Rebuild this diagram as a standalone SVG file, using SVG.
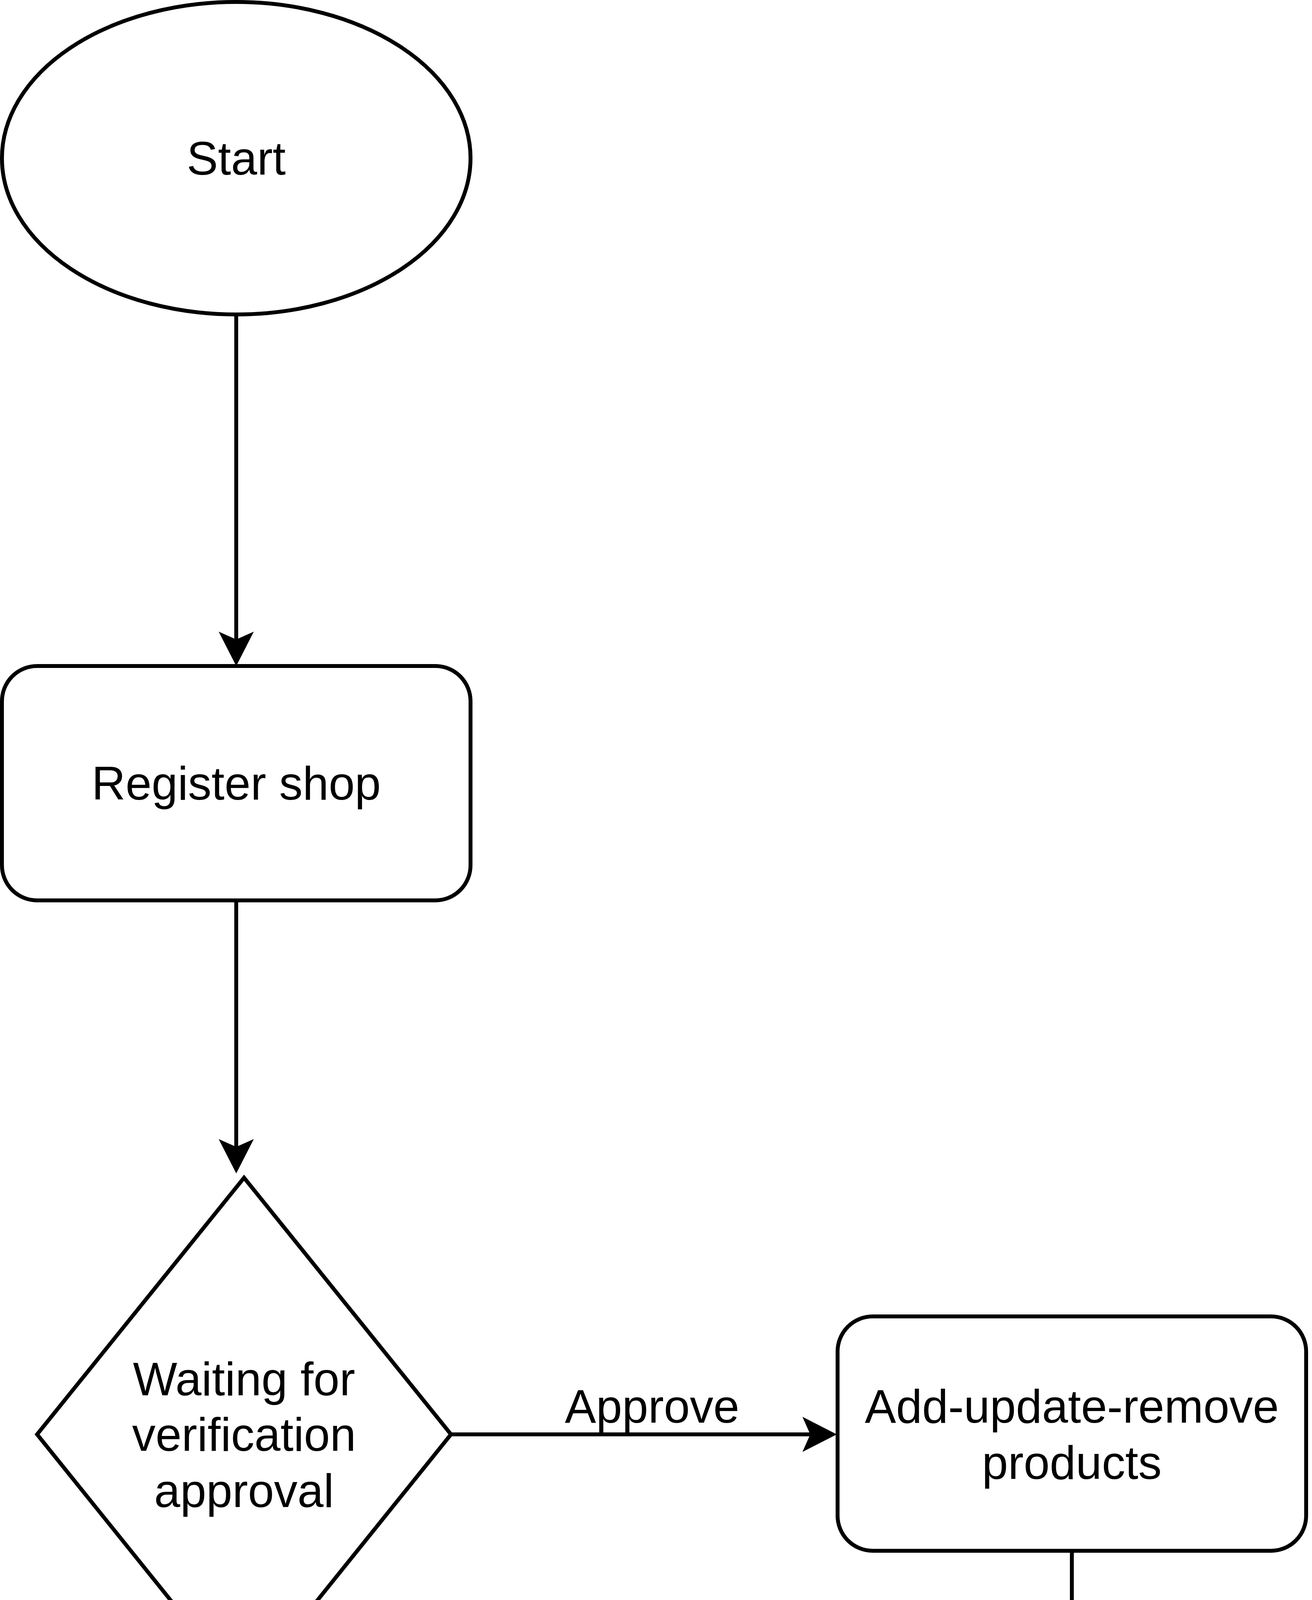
<svg xmlns="http://www.w3.org/2000/svg" width="3360" height="7290" viewBox="0 0 3360 7290">
<style>
.node{fill:#ffffff;stroke:#000000;stroke-width:10}
.edge{fill:none;stroke:#000000;stroke-width:10}
.t{font-family:"Liberation Sans",Arial,sans-serif;font-size:120px;fill:#000000;text-anchor:middle}
.lbl{font-family:"Liberation Sans",Arial,sans-serif;font-size:110px;fill:#000000;text-anchor:middle}
</style>
<defs>
<marker id="arrow" viewBox="0 0 88 90" markerWidth="88" markerHeight="90" refX="30" refY="45" orient="auto" markerUnits="userSpaceOnUse">
<path d="M88,45 L0,0 L20,45 L0,90 Z" fill="#000000"/>
</marker>
</defs>
<rect width="3360" height="7290" fill="#ffffff"/>
<g id="connectors">
<path class="edge" d="M605,805 V1647" marker-end="url(#arrow)"/>
<path class="edge" d="M605,2305 V2946" marker-end="url(#arrow)"/>
<path class="edge" d="M1155,3672 H2085" marker-end="url(#arrow)"/>
<path class="edge" d="M625,4330 V6412" marker-end="url(#arrow)"/>
<path class="edge" d="M2745,3970 V6780 Q2745,6875 2650,6875 H1287" marker-end="url(#arrow)"/>
<text class="t" x="1670" y="3642">Approve</text>
<rect x="465" y="5170" width="320" height="130" fill="#ffffff"/>
<text class="lbl" x="628" y="5270">Reject</text>
</g>
<g id="start">
<ellipse class="node" cx="605" cy="405" rx="600" ry="400"/>
<text class="t" x="605" y="447">Start</text>
</g>
<g id="register">
<rect class="node" x="5" y="1705" width="1200" height="600" rx="90" ry="90"/>
<text class="t" x="605" y="2047">Register shop</text>
</g>
<g id="decision">
<polygon class="node" points="625,3015 1155,3672 625,4330 95,3672"/>
<text class="t" x="625" y="3572">Waiting for</text>
<text class="t" x="625" y="3714">verification</text>
<text class="t" x="625" y="3858">approval</text>
</g>
<g id="products">
<rect class="node" x="2145" y="3370" width="1200" height="600" rx="90" ry="90"/>
<text class="t" x="2745" y="3642">Add-update-remove</text>
<text class="t" x="2745" y="3786">products</text>
</g>
<g id="stop">
<ellipse class="node" cx="625" cy="6875" rx="600" ry="400"/>
<text class="t" x="625" y="6917">Stop</text>
</g>
</svg>
